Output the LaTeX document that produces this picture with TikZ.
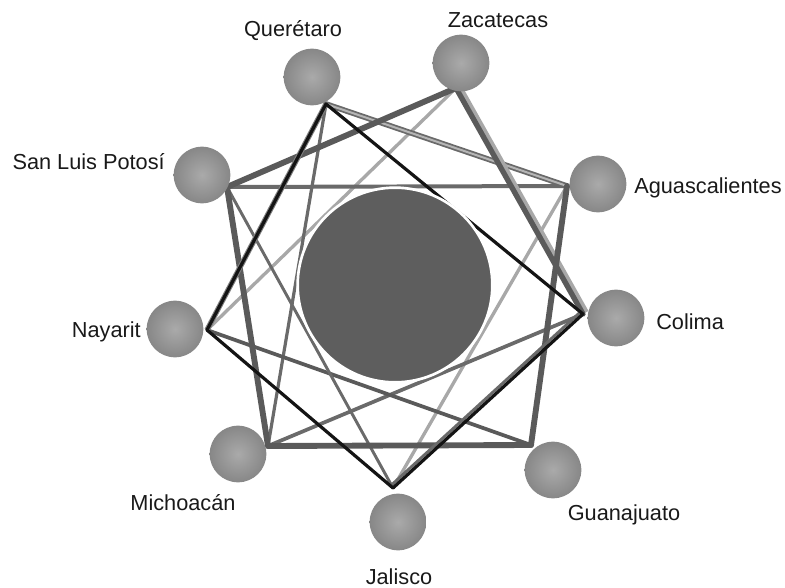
\documentclass[tikz,border=0pt]{standalone}
\usepackage{fontspec}
\setmainfont{Liberation Sans}
\usetikzlibrary{calc}
\definecolor{blk}{HTML}{141414}
\definecolor{dk}{HTML}{5A5A5A}
\definecolor{md}{HTML}{6A6A6A}
\definecolor{lt}{HTML}{A8A8A8}
\definecolor{hl}{HTML}{B5B5B5}
\definecolor{core}{HTML}{5E5E5E}
\definecolor{ballin}{HTML}{AAAAAA}
\definecolor{ballout}{HTML}{878787}
\begin{document}
\begin{tikzpicture}[x=0.75pt,y=-0.75pt,
  ball/.style={circle, minimum size=42.5pt, inner sep=0pt, shading=radial, inner color=ballin, outer color=ballout},
  lab/.style={font=\fontsize{16.3}{19}\selectfont, anchor=base, inner sep=0pt, text=black!90},
  blackedge/.style={draw=blk, line width=2.4pt, line join=round, line cap=round},
  thickedge/.style={draw=dk, line width=4.4pt, line cap=round},
  midedge/.style={draw=md, line width=2.6pt, line cap=round},
  lightedge/.style={draw=lt, line width=2.5pt, line cap=round},
  core/.style={circle, fill=core, draw=white, line width=2pt, minimum size=146pt, inner sep=0pt}]
\useasboundingbox (0,0) rectangle (785,588);
% vertex points
\coordinate (q) at (326,104);
\coordinate (z) at (456,88);
\coordinate (s) at (227,187);
\coordinate (a) at (567,186);
\coordinate (c) at (583,314);
\coordinate (n) at (207,330);
\coordinate (m) at (268,446);
\coordinate (j) at (393,488);
\coordinate (g) at (531,445);
% light edges
\draw[lightedge] (n) -- (z);
\draw[lightedge] (j) -- (a);
% medium edges
\draw[midedge, line width=3pt] (s) -- (a);
\draw[midedge, line width=4.2pt] (q) -- (a);
\draw[draw=hl, line width=1.5pt] (q) -- (a);
\draw[midedge, line width=2.4pt] (q) -- (m);
\draw[midedge, line width=2.8pt] (c) -- (m);
\draw[midedge, draw=dk, line width=2.8pt] (n) -- (g);
\draw[midedge, line width=2.2pt] (s) -- (j);
% thick edges
\draw[thickedge] (z) -- (s);
\draw[draw=lt, line width=3pt] ($(z)!3.2pt!90:(c)$) -- ($(c)!3.2pt!-90:(z)$);
\draw[thickedge, line width=4pt] (z) -- (c);
\draw[thickedge] (s) -- (m);
\draw[thickedge] (m) -- (g);
\draw[thickedge] (g) -- (a);
% black square
\draw[draw=md, line width=2.2pt] ($(c)!2.4pt!-90:(j)$) -- ($(j)!2.4pt!90:(c)$);
\draw[draw=gray, line width=4pt] (q) -- (n);
\draw[blackedge] (q) -- (c) -- (j) -- (n) -- cycle;
% balls
\node[ball] (Q) at (312,77) {};
\node[ball] (Z) at (461,63) {};
\node[ball] (S) at (202,175) {};
\node[ball] (A) at (598,184) {};
\node[ball] (C) at (616,318) {};
\node[ball] (N) at (175,329) {};
\node[ball] (M) at (238,454) {};
\node[ball] (J) at (398,522) {};
\node[ball] (G) at (553,470) {};
% central disc
\node[core] (core) at (395,285) {};
% labels
\node[lab] (lq) at (293,37) {Querétaro};
\node[lab] (lz) at (498,28) {Zacatecas};
\node[lab, anchor=base east] (ls) at (165,170) {San Luis Potosí};
\node[lab, anchor=base west] (la) at (634,194) {Aguascalientes};
\node[lab, anchor=base west] (lc) at (656,329) {Colima};
\node[lab, anchor=base east] (ln) at (141,337) {Nayarit};
\node[lab] (lm) at (183,510) {Michoacán};
\node[lab] (lj) at (399,584) {Jalisco};
\node[lab] (lg) at (624,520) {Guanajuato};
\end{tikzpicture}
\end{document}
